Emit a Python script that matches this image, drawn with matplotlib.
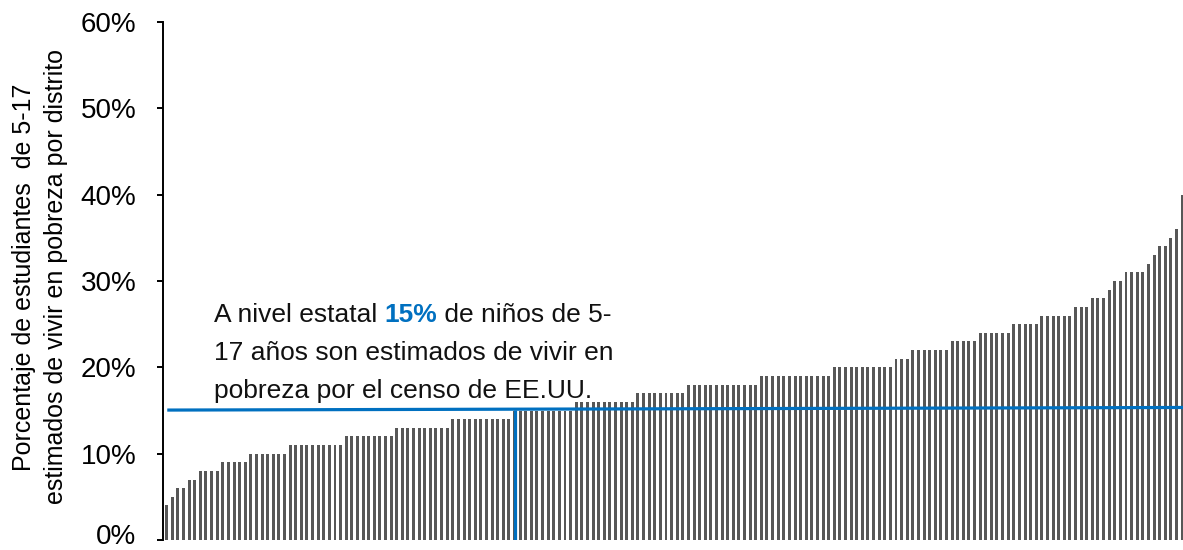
import matplotlib
matplotlib.use("Agg")
import matplotlib.pyplot as plt
import matplotlib.transforms as mtransforms
from matplotlib.ticker import FuncFormatter

# ---------------- data ----------------
poverty_pct = [
    4, 5, 6, 6, 7, 7, 8, 8, 8, 8,
    9, 9, 9, 9, 9,
    10, 10, 10, 10, 10, 10, 10,
    11, 11, 11, 11, 11, 11, 11, 11, 11, 11,
    12, 12, 12, 12, 12, 12, 12, 12, 12,
    13, 13, 13, 13, 13, 13, 13, 13, 13, 13,
    14, 14, 14, 14, 14, 14, 14, 14, 14, 14, 14,
    15, 15, 15, 15, 15, 15, 15, 15, 15, 15, 15,
    16, 16, 16, 16, 16, 16, 16, 16, 16, 16, 16,
    17, 17, 17, 17, 17, 17, 17, 17, 17,
    18, 18, 18, 18, 18, 18, 18, 18, 18, 18, 18, 18, 18,
    19, 19, 19, 19, 19, 19, 19, 19, 19, 19, 19, 19, 19,
    20, 20, 20, 20, 20, 20, 20, 20, 20, 20, 20,
    21, 21, 21,
    22, 22, 22, 22, 22, 22, 22,
    23, 23, 23, 23, 23,
    24, 24, 24, 24, 24, 24,
    25, 25, 25, 25, 25,
    26, 26, 26, 26, 26, 26,
    27, 27, 27,
    28, 28, 28,
    29,
    30, 30,
    31, 31, 31, 31,
    32, 33, 34, 34, 35, 36, 40,
]
state_rate = 15                 # state-level rate (text)
state_line_y = [15.05, 15.35]   # drawn reference line (slightly tilted in source)
state_marker_index = 62         # district where the state level is crossed
y_ticks = [0, 10, 20, 30, 40, 50, 60]

ylabel = "Porcentaje de estudiantes  de 5-17\nestimados de vivir en pobreza por distrito"
note_lines = [
    ["A nivel estatal ", f"{state_rate}%", " de niños de 5-"],
    ["17 años son estimados de vivir en"],
    ["pobreza por el censo de EE.UU."],
]

# ---------------- figure ----------------
W, H = 1183, 550
plt.rcParams['font.family'] = ['Liberation Sans', 'DejaVu Sans']
fig = plt.figure(figsize=(W / 100, H / 100), dpi=100)
ax_l, ax_r, ax_b, ax_t = 163, 1183, 540, 22
ax = fig.add_axes([ax_l / W, (H - ax_b) / H, (ax_r - ax_l) / W, (ax_b - ax_t) / H])

blue = "#0070C0"
x = list(range(len(poverty_pct)))
ax.bar(x, poverty_pct, width=0.53, color="#575757", linewidth=0)

ax.set_xlim(-0.66, 181.16)
ax.set_ylim(0, 60)
ax.set_yticks(y_ticks)
ax.yaxis.set_major_formatter(FuncFormatter(lambda v, p: f"{v:.0f}%"))
ax.tick_params(axis='y', labelsize=20, length=4, width=1.4, pad=15, colors='black')
ax.set_xticks([])
for s in ['top', 'right', 'bottom']:
    ax.spines[s].set_visible(False)
ax.spines['left'].set_linewidth(1.4)

# nudge the bottom "0%" label up a little so it stays inside the canvas
lbl0 = ax.yaxis.get_major_ticks()[0].label1
lbl0.set_transform(lbl0.get_transform() + mtransforms.ScaledTranslation(0, 4 / 72, fig.dpi_scale_trans))

# state reference lines
ax.plot([0.1, 181.16], state_line_y, color=blue, lw=2.3, solid_capstyle='butt', clip_on=False, zorder=3)
ax.plot([state_marker_index, state_marker_index], [0, state_line_y[0] + 0.05], color=blue, lw=2.3,
        solid_capstyle='butt', zorder=3)

# y label
fig.text(40 / W, 1 - 277 / H, ylabel, rotation=90, ha='center', va='center',
         multialignment='center', fontsize=18, linespacing=1.45)

# annotation text (mixed style)
baselines = [322, 360, 398]
fs = 19
for line, yb in zip(note_lines, baselines):
    prev = fig.text(214 / W, 1 - yb / H, line[0], fontsize=fs, va='baseline', ha='left', color='#111111')
    for j, piece in enumerate(line[1:]):
        bold = (line is note_lines[0] and j == 0)
        prev = ax.annotate(piece, xy=(1, 0), xycoords=prev, va='bottom', ha='left', fontsize=fs,
                           color=blue if bold else '#111111', fontweight='bold' if bold else 'normal')

fig.savefig("out.png", dpi=100)
